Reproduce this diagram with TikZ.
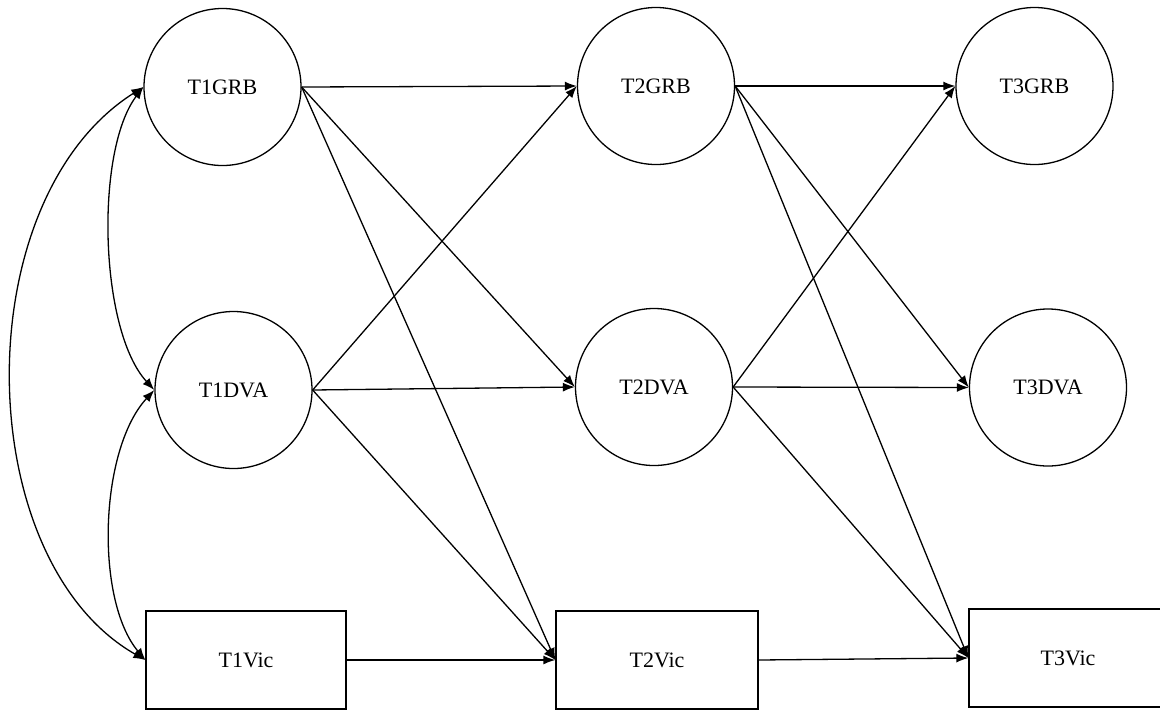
\documentclass[tikz,border=0pt]{standalone}
\usepackage{fontspec}
\setmainfont{Liberation Serif}
\usetikzlibrary{arrows.meta}
\begin{document}
\begin{tikzpicture}[x=1pt,y=-1pt,
  every node/.style={font=\fontsize{22}{26}\selectfont},
  latent/.style={draw, circle, line width=1.3pt, minimum size=157pt, inner sep=0pt},
  observed/.style={draw, rectangle, line width=1.3pt, minimum height=98pt, inner sep=0pt},
  path/.style={line width=1.3pt, -{Latex[length=12pt,width=9pt]}},
  cov/.style={line width=1.3pt, {Latex[length=12pt,width=9pt]}-{Latex[length=12pt,width=9pt]}}]
\useasboundingbox (0,0) rectangle (1160,710);
\node[latent] (t1grb) at (222.5,87) {T1GRB};
\node[latent] (t1dva) at (233.5,390) {T1DVA};
\node[observed, minimum width=200pt] (t1vic) at (246,660) {T1Vic};
\node[latent] (t2grb) at (656,86) {T2GRB};
\node[latent] (t2dva) at (654,387) {T2DVA};
\node[observed, minimum width=202pt] (t2vic) at (657,660) {T2Vic};
\node[latent] (t3grb) at (1034.5,86) {T3GRB};
\node[latent] (t3dva) at (1048,387.5) {T3DVA};
\node[observed, minimum width=198pt] (t3vic) at (1068,658) {T3Vic};
% covariances
\draw[cov] (t1grb.west) .. controls (95,150) and (99,330) .. (t1dva.west);
\draw[cov] (t1dva.west) .. controls (99,450) and (95,600) .. (t1vic.west);
\draw[cov] (t1grb.west) .. controls (-35,200) and (-30,560) .. (t1vic.west);
% paths T1 -> T2
\draw[path] (t1grb.east) -- (t2grb.west);
\draw[path] (t1grb.east) -- (t2dva.west);
\draw[path] (t1grb.east) -- (t2vic.west);
\draw[path] (t1dva.east) -- (t2grb.west);
\draw[path] (t1dva.east) -- (t2dva.west);
\draw[path] (t1dva.east) -- (t2vic.west);
\draw[path] (t1vic.east) -- (t2vic.west);
% paths T2 -> T3
\draw[path] (t2grb.east) -- (t3grb.west);
\draw[path] (t2grb.east) -- (t3dva.west);
\draw[path] (t2grb.east) -- (t3vic.west);
\draw[path] (t2dva.east) -- (t3grb.west);
\draw[path] (t2dva.east) -- (t3dva.west);
\draw[path] (t2dva.east) -- (t3vic.west);
\draw[path] (t2vic.east) -- (t3vic.west);
\end{tikzpicture}
\end{document}
